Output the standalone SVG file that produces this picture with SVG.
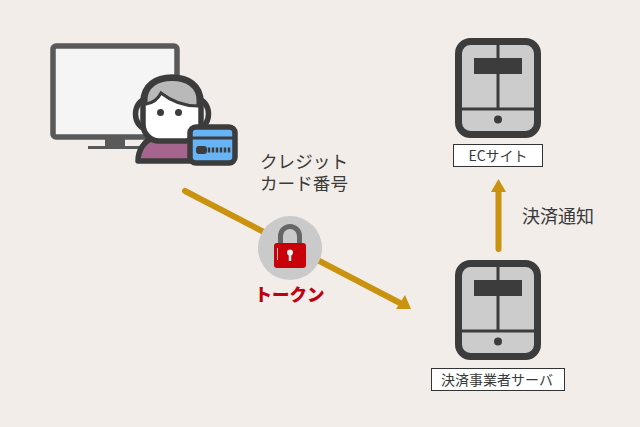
<svg xmlns="http://www.w3.org/2000/svg" width="640" height="427" viewBox="0 0 640 427">
<style>
.lbl{font-family:"Noto Sans CJK JP","Liberation Sans",sans-serif;fill:#3a3a3a}
.box{fill:#fff;stroke:#333;stroke-width:1}
.dev{fill:#ccc;stroke:#3c3c3c;stroke-width:7}
.devl{stroke:#3c3c3c;fill:none}
.ol{stroke:#3c3c3c;stroke-width:5.500;stroke-linejoin:round}
.arrow{stroke:#c9920f;stroke-width:6;fill:none;stroke-linecap:round}
</style>
<defs>
<g id="device">
<rect x="3.500" y="3.500" width="79" height="93" rx="12" class="dev"/>
<path d="M43 5V71M6 71H80" class="devl" stroke-width="3"/>
<rect x="19" y="20" width="48" height="16" fill="#3c3c3c"/>
<circle cx="43" cy="81.500" r="4" fill="#3c3c3c"/>
</g>
</defs>
<rect width="640" height="427" fill="#f2ede9"/>
<g id="connectors">
<path d="M185 191L400 303" class="arrow"/>
<path d="M411 309L396 309L405 295Z" fill="#c9920f"/>
<path d="M498.500 249V191" class="arrow"/>
<path d="M498.500 179L506 192H491Z" fill="#c9920f"/>
</g>
<g id="pc">
<rect x="53" y="46" width="124" height="91" rx="3" fill="#f5f5f5" stroke="#595959" stroke-width="5.500"/>
<rect x="105" y="137" width="20" height="11" fill="#595959"/>
<rect x="88" y="146" width="56" height="3" fill="#595959"/>
</g>
<g id="user">
<path d="M146 99c-14 3-14 27 0 30zM198 99c14 3 14 27 0 30z" fill="#f2ede9" class="ol" stroke-width="4.500"/>
<path d="M138 161c0-10 6-21 16-23h38c10 2 15 13 15 23z" fill="#a6658f" class="ol"/>
<path d="M143 102c0-17 13-25 29-25s29 8 29 25v22c0 10-8 17-16 17h-26c-8 0-16-7-16-17z" fill="#fff" class="ol"/>
<path d="M146 104v-4c0-13 11-20.500 26-20.500s26 7.500 26 20.500v6c-15 0-27-5-37-13c-3 6-8 10-15 11z" fill="#b9b9b9" stroke="#3c3c3c" stroke-width="3"/>
<circle cx="160.500" cy="112.500" r="3.500" fill="#3c3c3c"/>
<circle cx="178.500" cy="112.500" r="3.500" fill="#3c3c3c"/>
<rect x="190" y="127" width="45" height="36" rx="6" fill="#66b3f5" class="ol"/>
<path d="M191 138H234" stroke="#3c3c3c" stroke-width="3"/>
<rect x="196" y="146" width="11" height="8" rx="3" fill="#3c3c3c"/>
<path d="M209 147.500v5M213 147.500v5M217 147.500v5M221 147.500v5M225 147.500v5M229 147.500v5" stroke="#3c3c3c" stroke-width="2.500"/>
</g>
<g id="card-label"><text class="lbl" font-size="17.600"><tspan x="260" y="168">クレジット</tspan><tspan x="260" y="190">カード番号</tspan></text></g>
<g id="token">
<circle cx="290" cy="248" r="32" fill="#cacaca"/>
<path d="M280.500 245v-9a9.500 9.500 0 0 1 19 0v9" fill="none" stroke="#666" stroke-width="5"/>
<rect x="274" y="243" width="32" height="25" rx="3" fill="#c8000a"/>
<circle cx="290" cy="252.500" r="3" fill="#eee"/>
<path d="M290 253v8" stroke="#eee" stroke-width="2.500"/>
<path d="M277.500 248v12" stroke="#eee" stroke-width="0.800"/>
<text x="289.500" y="300.500" text-anchor="middle" font-size="17.500" font-weight="900" style="font-family:'Noto Sans CJK JP',sans-serif" fill="#c00010">トークン</text>
</g>
<g id="ec-site">
<use href="#device" x="455" y="38"/>
<rect x="453.500" y="144.500" width="89" height="22" class="box"/>
<text x="498" y="160.500" text-anchor="middle" font-size="14" class="lbl">ECサイト</text>
</g>
<g id="payment-server">
<use href="#device" x="455" y="260"/>
<rect x="431.500" y="368.500" width="133" height="22" class="box"/>
<text x="497" y="385" text-anchor="middle" font-size="14" class="lbl">決済事業者サーバ</text>
</g>
<g id="notify-label"><text x="522" y="222.500" font-size="18" class="lbl">決済通知</text></g>
</svg>
